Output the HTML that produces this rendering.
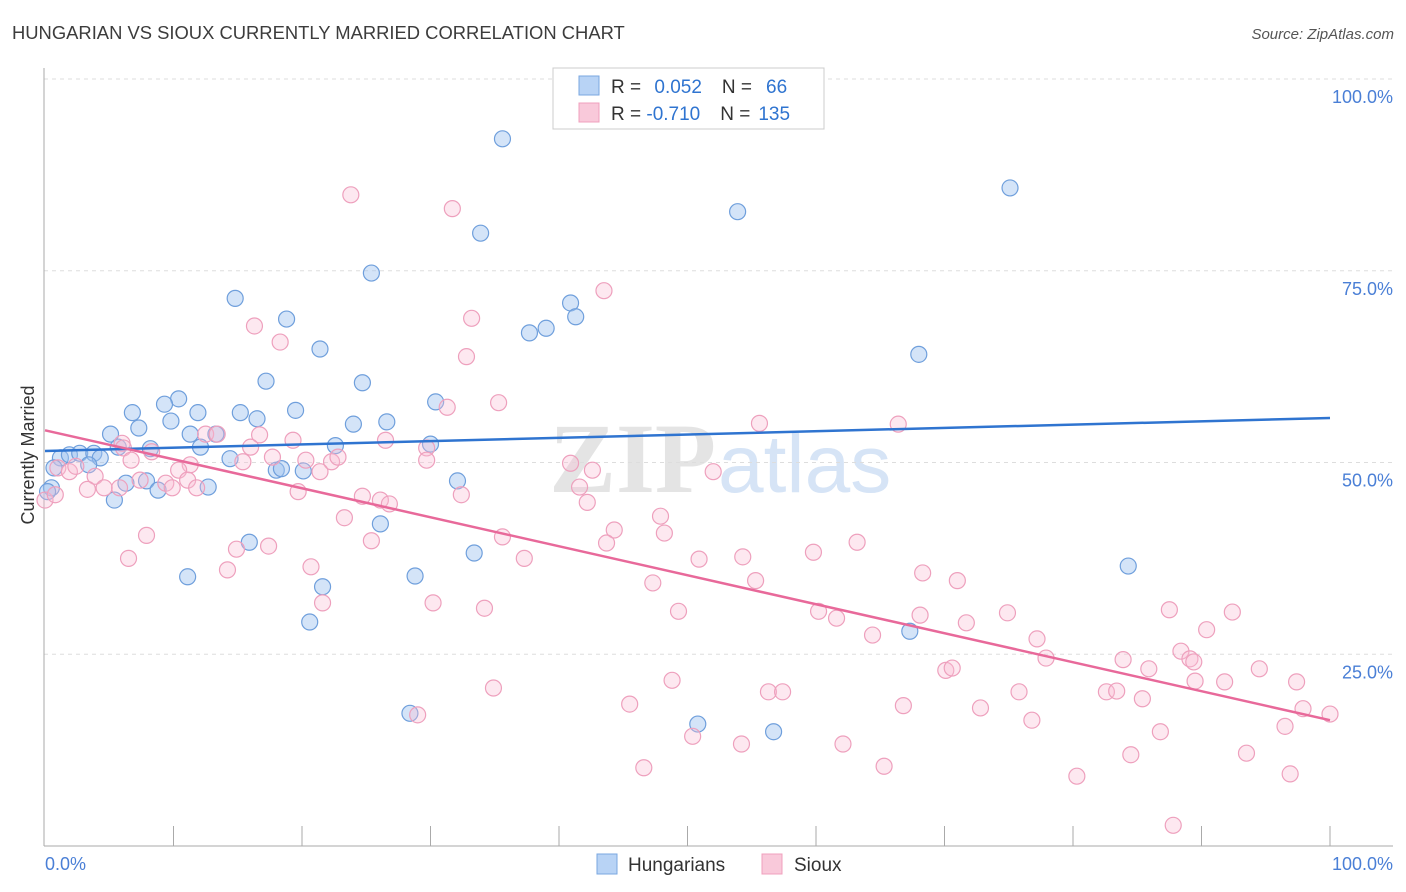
<!DOCTYPE html>
<html><head><meta charset="utf-8"><style>
body{margin:0;background:#fff;font-family:"Liberation Sans",sans-serif;}
svg{display:block}
</style></head><body>
<svg width="1406" height="892" xmlns="http://www.w3.org/2000/svg">
<text x="12" y="39" font-size="18.4" fill="#3c3c3c">HUNGARIAN VS SIOUX CURRENTLY MARRIED CORRELATION CHART</text>
<text x="1394" y="39" font-size="15" fill="#555" font-style="italic" text-anchor="end">Source: ZipAtlas.com</text>
<text x="716" y="492" font-size="100" fill="#e4e4e4" text-anchor="end" font-family="Liberation Serif" font-weight="bold">ZIP</text>
<text x="718" y="492" font-size="82" fill="#d6e4f6">atlas</text>
<g id="grid"></g>
<g id="axes"></g>
<text x="34" y="455" font-size="18" fill="#333" text-anchor="middle" transform="rotate(-90 34 455)">Currently Married</text>
<g id="marks"></g>
<g>
<rect x="553" y="68" width="271" height="61" fill="#fff" stroke="#ccc"/>
<rect x="579" y="76" width="20" height="19" fill="#b8d3f5" stroke="#7aa7e0"/>
<rect x="579" y="103" width="20" height="19" fill="#f9c9da" stroke="#f0a0bd"/>
<text x="611" y="93" font-size="19" fill="#333">R = <tspan fill="#2f74d0" dx="8">0.052</tspan><tspan dx="20" fill="#333">N =</tspan><tspan dx="14" fill="#2f74d0">66</tspan></text>
<text x="611" y="120" font-size="19" fill="#333">R = <tspan fill="#2f74d0">-0.710</tspan><tspan dx="20" fill="#333">N =</tspan><tspan dx="8" fill="#2f74d0">135</tspan></text>
</g>
<g>
<rect x="597" y="854" width="20" height="20" fill="#b8d3f5" stroke="#7aa7e0"/>
<text x="628" y="871" font-size="19" fill="#333">Hungarians</text>
<rect x="762" y="854" width="20" height="20" fill="#f9c9da" stroke="#f0a0bd"/>
<text x="794" y="871" font-size="19" fill="#333">Sioux</text>
</g>
<script>
const yTicks=[100,75,50,25];
const yTickLabels=["100.0%","75.0%","50.0%","25.0%"];
const xTicks=[10,20,30,40,50,60,70,80,90,100];
const blueX=[35.6,75.1,53.9,33.9,25.4,14.8,40.9,41.3,18.8,37.7,39.0,21.4,68.0,17.2,24.7,10.4,9.3,6.8,11.9,15.2,9.8,16.5,19.5,24.0,26.6,30.4,5.1,7.3,11.3,13.3,8.2,12.1,30.0,22.6,5.7,1.2,1.9,2.7,3.8,4.3,3.4,0.7,14.4,18.0,18.4,20.1,6.3,7.9,8.8,12.7,5.4,32.1,0.5,26.1,15.9,33.4,11.1,21.6,28.8,20.6,84.3,67.3,28.4,50.8,56.7,0.2];
const blueY=[92.2,85.8,82.7,79.9,74.7,71.4,70.8,69.0,68.7,66.9,67.5,64.8,64.1,60.6,60.4,58.3,57.6,56.5,56.5,56.5,55.4,55.7,56.8,55.0,55.3,57.9,53.7,54.5,53.7,53.7,51.8,52.0,52.4,52.2,52.0,50.6,51.0,51.2,51.2,50.6,49.7,49.3,50.5,49.0,49.2,48.9,47.3,47.6,46.4,46.8,45.1,47.6,46.7,42.0,39.6,38.2,35.1,33.8,35.2,29.2,36.5,28.0,17.3,15.9,14.9,46.2];
const pinkX=[23.8,31.7,43.5,16.3,18.3,33.2,32.8,35.3,31.3,55.6,66.4,6.0,6.1,8.3,12.5,13.4,16.7,19.3,26.5,29.7,6.7,11.3,15.4,16.0,17.7,20.3,22.3,22.8,29.7,40.9,42.6,52.0,1.0,1.9,2.4,3.9,10.4,9.4,11.1,7.4,5.8,4.6,3.3,9.9,11.8,19.7,21.4,32.4,24.7,26.1,26.8,41.6,42.2,47.9,44.3,43.7,35.6,48.2,23.3,25.4,7.9,6.5,14.9,17.4,14.2,20.7,37.3,50.9,54.3,59.8,63.2,68.3,71.0,55.3,47.3,21.6,30.2,34.2,49.3,60.2,61.6,64.4,68.1,71.7,74.9,87.5,92.4,90.4,77.2,77.9,83.9,85.9,88.4,89.1,89.4,94.5,97.4,89.5,91.8,70.1,70.6,48.8,34.9,56.3,57.4,75.8,82.6,83.4,85.4,45.5,66.8,72.8,97.9,100,76.8,96.5,86.8,50.4,54.2,62.1,93.5,84.5,46.6,65.3,80.3,96.9,87.8,29.0,0,0.8];
const pinkY=[84.9,83.1,72.4,67.8,65.7,68.8,63.8,57.8,57.2,55.1,55.0,52.5,51.9,51.4,53.7,53.7,53.6,52.9,52.9,51.9,50.3,49.7,50.1,52.0,50.7,50.3,50.1,50.7,50.3,49.9,49.0,48.8,49.3,48.8,49.5,48.2,49.0,47.3,47.7,47.7,46.7,46.7,46.5,46.7,46.7,46.2,48.8,45.8,45.6,45.1,44.6,46.8,44.8,43.0,41.2,39.5,40.3,40.8,42.8,39.8,40.5,37.5,38.7,39.1,36.0,36.4,37.5,37.4,37.7,38.3,39.6,35.6,34.6,34.6,34.3,31.7,31.7,31.0,30.6,30.6,29.7,27.5,30.1,29.1,30.4,30.8,30.5,28.2,27.0,24.5,24.3,23.1,25.4,24.4,24.0,23.1,21.4,21.5,21.4,22.9,23.2,21.6,20.6,20.1,20.1,20.1,20.1,20.2,19.2,18.5,18.3,18.0,17.9,17.2,16.4,15.6,14.9,14.3,13.3,13.3,12.1,11.9,10.2,10.4,9.1,9.4,2.7,17.1,45.1,45.8];
const blueTrend=[51.5,55.8];
const pinkTrend=[54.2,16.4];
const NS="http://www.w3.org/2000/svg";
function xs(v){return 45+v*12.85;}
function ys(v){return 846-v*7.67;}
function mk(t,a,parent){const e=document.createElementNS(NS,t);for(const k in a)e.setAttribute(k,a[k]);parent.appendChild(e);return e;}
const grid=document.getElementById('grid'),axes=document.getElementById('axes'),marks=document.getElementById('marks');
yTicks.forEach((v,i)=>{
 const l=mk('line',{x1:44,x2:1393,y1:ys(v),y2:ys(v),stroke:'#ddd','stroke-dasharray':'4,4'},grid);
 
 
 const t=mk('text',{x:1393,y:ys(v)+24,'font-size':18,fill:'#4a7fd6','text-anchor':'end'},axes);
 t.textContent=yTickLabels[i];
 
 
});
const ya=mk('line',{x1:44,x2:44,y1:68,y2:846,stroke:'#aaa'},axes);


const xa=mk('line',{x1:44,x2:1393,y1:846,y2:846,stroke:'#aaa'},axes);


xTicks.forEach(v=>{
 const l=mk('line',{x1:xs(v),x2:xs(v),y1:826,y2:846,stroke:'#aaa'},axes);
 
 
});
const x0=mk('text',{x:45,y:870,'font-size':18,fill:'#4a7fd6'},axes);x0.textContent='0.0%';


const x1=mk('text',{x:1393,y:870,'font-size':18,fill:'#4a7fd6','text-anchor':'end'},axes);x1.textContent='100.0%';


blueX.forEach((v,i)=>{
 const c=mk('circle',{cx:xs(v),cy:ys(blueY[i]),r:8,fill:'rgba(160,196,240,0.45)',stroke:'#6f9fdc','stroke-width':1.2},marks);
 
 
});
pinkX.forEach((v,i)=>{
 const c=mk('circle',{cx:xs(v),cy:ys(pinkY[i]),r:8,fill:'rgba(248,190,212,0.35)',stroke:'#eea0bd','stroke-width':1.2},marks);
 
 
});
const bl=mk('line',{x1:xs(0),x2:xs(100),y1:ys(blueTrend[0]),y2:ys(blueTrend[1]),stroke:'#2f74d0','stroke-width':2.5},marks);


const pl=mk('line',{x1:xs(0),x2:xs(100),y1:ys(pinkTrend[0]),y2:ys(pinkTrend[1]),stroke:'#e8699a','stroke-width':2.5},marks);


</script>
</svg>
</body></html>
